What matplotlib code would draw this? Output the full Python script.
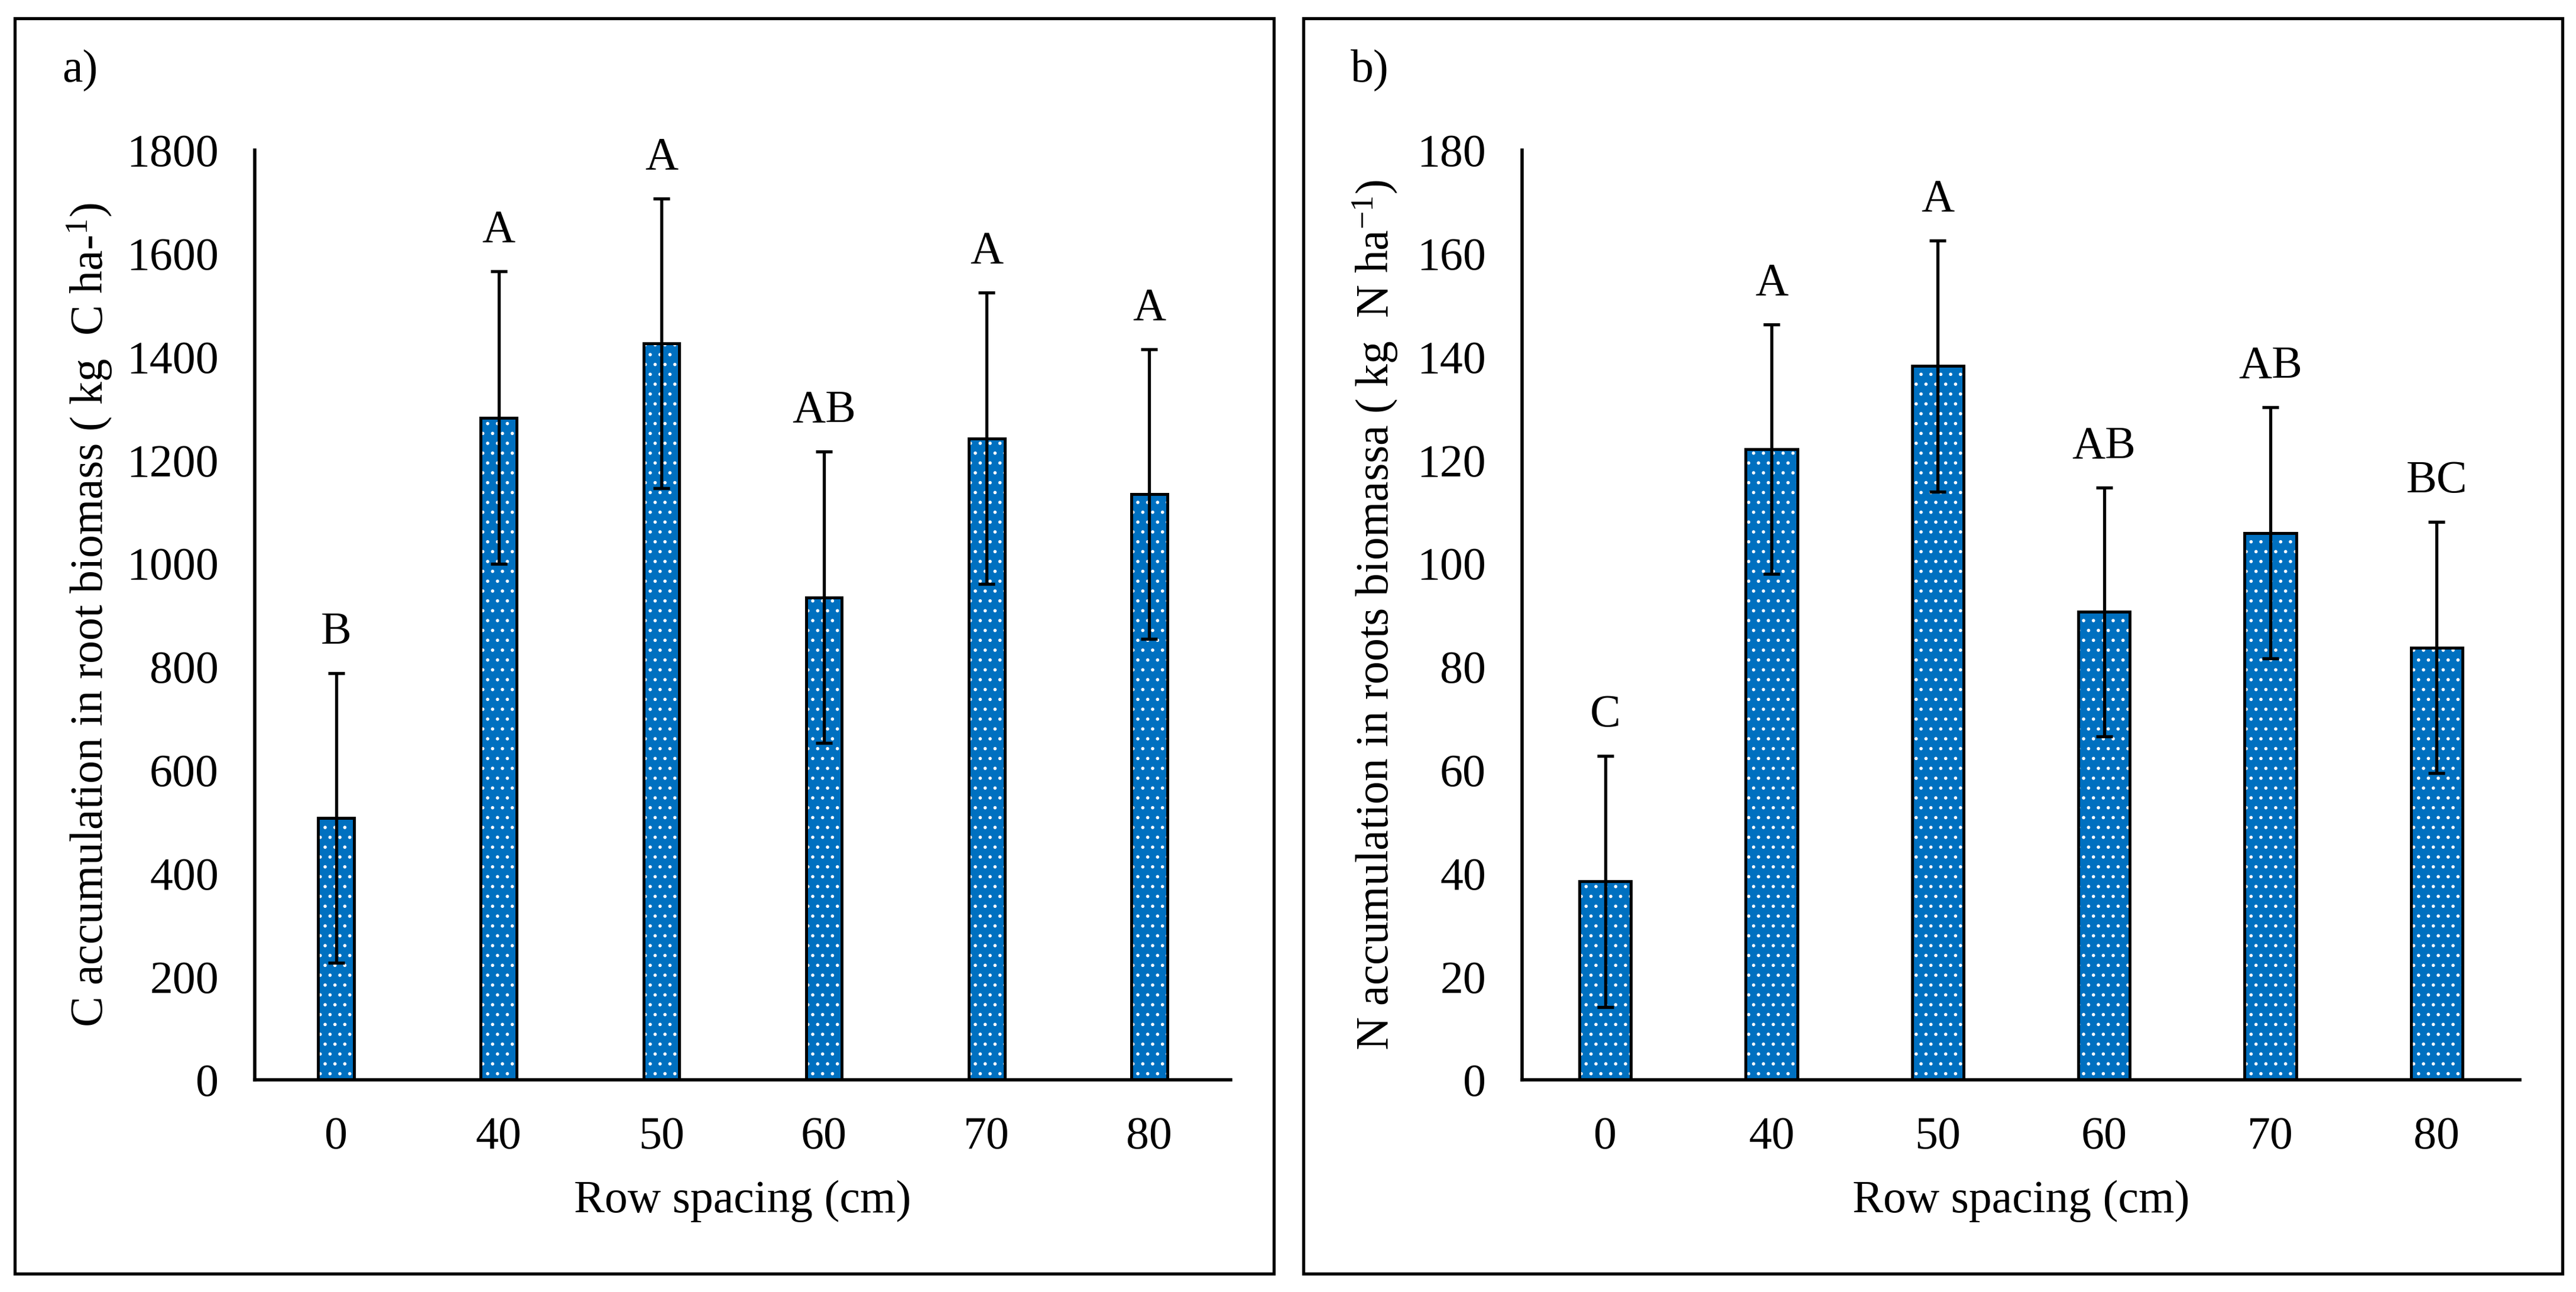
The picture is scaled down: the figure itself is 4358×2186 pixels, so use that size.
import matplotlib
matplotlib.use('Agg')
import matplotlib.pyplot as plt
from matplotlib.patches import Rectangle

plt.rcParams['font.family'] = ['Liberation Serif', 'DejaVu Serif']
plt.rcParams['mathtext.fontset'] = 'custom'
plt.rcParams['mathtext.rm'] = 'Liberation Serif'
plt.rcParams['mathtext.it'] = 'Liberation Serif:italic'
plt.rcParams['hatch.linewidth'] = 0.8

BAR_BLUE = '#0070C0'
FS = 28

# data
row_spacing = ['0', '40', '50', '60', '70', '80']
c_root = [507, 1282, 1426, 934, 1242, 1134]
c_root_err = [280, 283, 280, 282, 282, 280]
c_letters = ['B', 'A', 'A', 'AB', 'A', 'A']
n_root = [38.4, 122.1, 138.2, 90.6, 105.9, 83.7]
n_root_err = [24.3, 24.2, 24.3, 24.1, 24.3, 24.3]
n_letters = ['C', 'A', 'A', 'AB', 'AB', 'BC']

fig = plt.figure(figsize=(21.79, 10.93), dpi=200)

# panel frames
for x0 in (25 / 4358, 2205 / 4358):
    fig.patches.append(Rectangle((x0, 31 / 2186), 1940 / 4358 + 0.0437, 2124 / 2186,
                                 transform=fig.transFigure, fill=False,
                                 edgecolor='black', linewidth=1.9))


# axes, values, errors, letters, ylabel, ylim, yticks, bar width, ylabel x
def draw_panel(ax, vals, errs, letters, ylabel, ymax, ystep, width, lab_x):
    xs = list(range(len(row_spacing)))
    ax.bar(xs, vals, width=width, color=BAR_BLUE, edgecolor='white',
           hatch='..', linewidth=0, zorder=2)
    ax.bar(xs, vals, width=width, fill=False, edgecolor='black',
           linewidth=1.8, zorder=3)
    ax.errorbar(xs, vals, yerr=errs, fmt='none', ecolor='black',
                elinewidth=1.9, capsize=5, capthick=1.9, zorder=4)
    for x, v, e, t in zip(xs, vals, errs, letters):
        ax.annotate(t, (x, v + e), xytext=(0, 18), textcoords='offset points',
                    ha='center', va='baseline', fontsize=FS)
    ax.set_xlim(-0.5, len(xs) - 0.5)
    ax.set_ylim(0, ymax)
    ax.set_yticks(range(0, ymax + 1, ystep))
    ax.set_xticks(xs)
    ax.set_xticklabels(row_spacing)
    ax.tick_params(length=0, labelsize=FS, pad=22)
    for s in ('top', 'right'):
        ax.spines[s].set_visible(False)
    for s in ('left', 'bottom'):
        ax.spines[s].set_linewidth(2.0)
    ax.set_xlabel('Row spacing (cm)', fontsize=FS)
    ax.xaxis.set_label_coords(0.5, -0.108)
    ax.set_ylabel(ylabel, fontsize=FS)
    ax.yaxis.set_label_coords(lab_x, 0.5)


ax1 = fig.add_axes([431 / 4358, 1 - 1827 / 2186, 1651 / 4358, 1573 / 2186])
draw_panel(ax1, c_root, c_root_err, c_letters,
           r'C accumulation in root biomass ( kg  C ha-$^{\mathrm{1}}$)',
           1800, 200, 0.22, -0.144)

ax2 = fig.add_axes([2575 / 4358, 1 - 1827 / 2186, 1688 / 4358, 1573 / 2186])
draw_panel(ax2, n_root, n_root_err, n_letters,
           r'N accumulation in roots biomassa ( kg  N ha$^{\mathrm{-1}}$)',
           180, 20, 0.31, -0.1226)

fig.text(105 / 4358, 1 - 138 / 2186, 'a)', fontsize=FS, va='baseline')
fig.text(2285 / 4358, 1 - 138 / 2186, 'b)', fontsize=FS, va='baseline')

fig.savefig('out.png', dpi=200)
